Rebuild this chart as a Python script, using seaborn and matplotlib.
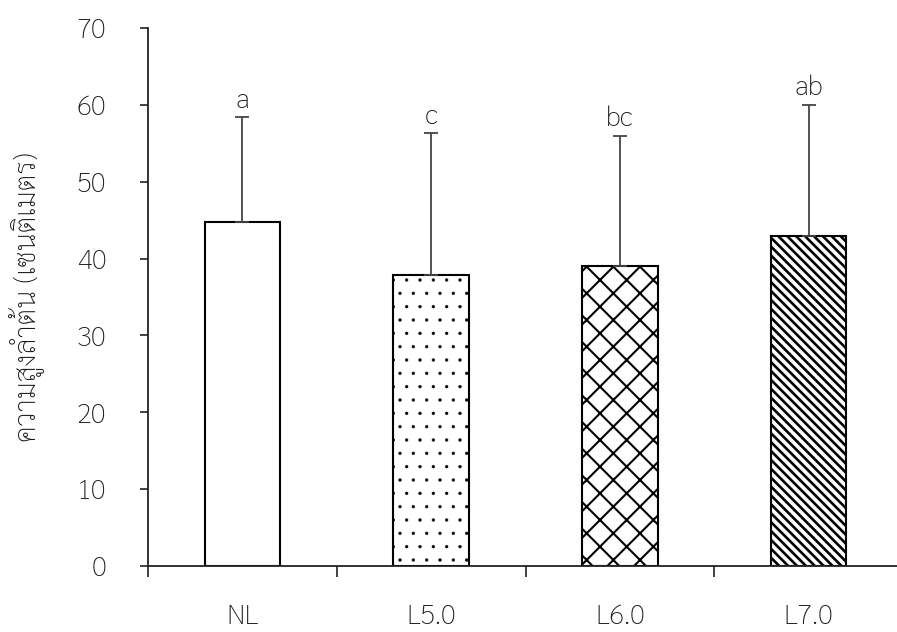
import matplotlib
matplotlib.use("Agg")
import matplotlib.pyplot as plt
from matplotlib.ticker import FixedLocator
import pandas as pd
import seaborn as sns

# Plant height per light treatment (mean, SD) with significance letters
treatments = ["NL", "L5.0", "L6.0", "L7.0"]
height_mean = [44.7, 37.8, 39.0, 43.0]
height_sd = [13.7, 18.5, 17.0, 17.0]
groups = ["a", "c", "bc", "ab"]
y_ticks = [0, 10, 20, 30, 40, 50, 60, 70]

# Render at 80 dpi so hatch patterns get a slightly finer pitch;
# K converts sizes chosen for 100 dpi into points at this resolution.
DPI = 80
K = 100 / DPI

sns.set_theme(style="white")
plt.rcParams["font.family"] = ["Sarabun", "DejaVu Sans"]
plt.rcParams["font.weight"] = "light"
plt.rcParams["axes.labelweight"] = "light"
plt.rcParams["hatch.linewidth"] = 1.5 * K

df = pd.DataFrame({"treatment": treatments, "height": height_mean})

fig = plt.figure(figsize=(897 / DPI, 632 / DPI), dpi=DPI)
ax = fig.add_axes([0.165, 0.1044, 0.8417, 0.8513])

sns.barplot(data=df, x="treatment", y="height", order=treatments,
            color="white", edgecolor="black", linewidth=1.5 * K, width=0.4,
            errorbar=None, ax=ax)

hatches = ["", ".", "x", "\\\\\\"]
hatch_lw = [1.0, 0.4, 1.5, 1.9]
hatch_col = ["black", "#555555", "#222222", "#222222"]
for bar, h, lw, hc in zip(ax.patches, hatches, hatch_lw, hatch_col):
    bar.set_hatch(h)
    bar.set_facecolor("white")
    if hasattr(bar, "set_hatch_linewidth"):
        bar.set_hatch_linewidth(lw * K)
    if hasattr(bar, "set_hatchcolor"):
        bar.set_hatchcolor(hc)

xpos = list(range(len(treatments)))
ax.errorbar(xpos, height_mean, yerr=[[0] * len(height_sd), height_sd],
            fmt="none", ecolor="#444444", elinewidth=1.3 * K, capsize=5 * K,
            capthick=1.3 * K, zorder=1)

for x, m, s, g in zip(xpos, height_mean, height_sd, groups):
    ax.text(x, m + s + 1.25, g, ha="center", va="baseline",
            fontsize=20 * K, color="#1a1a1a")

ax.set_xlim(-0.5, 3.5)
ax.set_ylim(0, 70)
ax.set_yticks(y_ticks)
ax.set_xlabel("")
ax.set_ylabel("ความสูงลำต้น (เซนติเมตร)", fontsize=20.5 * K,
              fontweight="light", color="#1a1a1a")
ax.yaxis.set_label_coords(-0.137, 0.5)

for side in ["top", "right"]:
    ax.spines[side].set_visible(False)
for side in ["left", "bottom"]:
    ax.spines[side].set_color("#222222")
    ax.spines[side].set_linewidth(1.3 * K)

ax.xaxis.set_minor_locator(FixedLocator([-0.5, 0.5, 1.5, 2.5, 3.5]))
ax.tick_params(axis="x", which="major", length=0, pad=27 * K,
               labelsize=20 * K, labelcolor="#1a1a1a")
ax.tick_params(axis="x", which="minor", bottom=True, length=8 * K,
               width=1.2 * K, color="#222222", direction="out")
ax.tick_params(axis="y", which="major", left=True, length=6 * K,
               width=1.2 * K, color="#222222", direction="out", pad=24 * K,
               labelsize=20 * K, labelcolor="#1a1a1a")

fig.savefig("out.png", dpi=DPI)
